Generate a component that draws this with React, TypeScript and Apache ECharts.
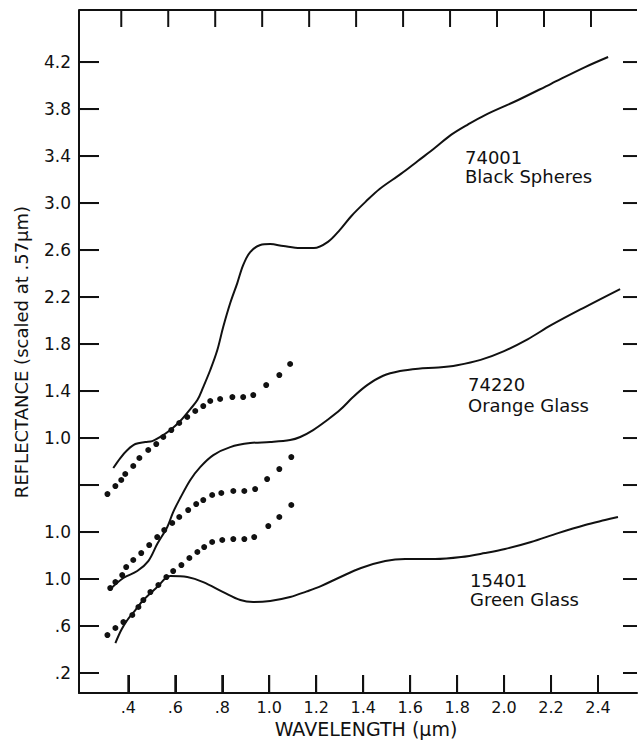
import React, { useEffect, useRef } from "react";
import * as echarts from "echarts";

// Tick values (axis space) and their printed labels
const wavelengthTicks = [0.4, 0.6, 0.8, 1.0, 1.2, 1.4, 1.6, 1.8, 2.0, 2.2, 2.4];
const wavelengthLabels = [".4", ".6", ".8", "1.0", "1.2", "1.4", "1.6", "1.8", "2.0", "2.2", "2.4"];
const topTicks = [0.37, 0.57, 0.77, 0.97, 1.17, 1.37, 1.57, 1.77, 1.97, 2.17, 2.37];
const reflectanceTicks = [0.2, 0.6, 1.0, 1.4, 1.8, 2.2, 2.6, 3.0, 3.4, 3.8, 4.2, 4.6, 5.0, 5.4];
const reflectanceLabels = [".2", ".6", "1.0", "1.0", "", "1.0", "1.4", "1.8", "2.2", "2.6", "3.0", "3.4", "3.8", "4.2"];

// Solid curves: [wavelength µm, plotted reflectance]
const blackSpheresCurve = [
  [0.336, 1.945], [0.366, 2.03], [0.396, 2.098], [0.43, 2.149], [0.472, 2.166], [0.502, 2.174],
  [0.536, 2.209], [0.579, 2.268], [0.621, 2.345], [0.664, 2.447], [0.694, 2.523], [0.719, 2.634],
  [0.749, 2.779], [0.779, 2.949], [0.804, 3.145], [0.834, 3.349], [0.864, 3.519], [0.889, 3.672],
  [0.919, 3.783], [0.962, 3.843], [1.004, 3.851], [1.06, 3.834], [1.132, 3.817], [1.19, 3.817],
  [1.25, 3.87], [1.3, 3.97], [1.35, 4.09], [1.41, 4.21], [1.47, 4.32], [1.562, 4.45],
  [1.634, 4.56], [1.706, 4.67], [1.774, 4.78], [1.847, 4.87], [1.919, 4.949], [2.06, 5.077],
  [2.2, 5.215], [2.345, 5.357], [2.443, 5.443],
];
const orangeGlassCurve = [
  [0.328, 0.923], [0.379, 1.009], [0.438, 1.068], [0.485, 1.153], [0.523, 1.298], [0.566, 1.443],
  [0.591, 1.57], [0.621, 1.689], [0.664, 1.843], [0.706, 1.953], [0.762, 2.055], [0.834, 2.123],
  [0.919, 2.157], [1.004, 2.166], [1.089, 2.183], [1.132, 2.209], [1.187, 2.268], [1.247, 2.353],
  [1.302, 2.44], [1.357, 2.549], [1.417, 2.65], [1.485, 2.73], [1.557, 2.77], [1.634, 2.79],
  [1.72, 2.8], [1.8, 2.82], [1.9, 2.865], [2.0, 2.94], [2.1, 3.04], [2.2, 3.16], [2.345, 3.315],
  [2.494, 3.468],
];
const greenGlassCurve = [
  [0.345, 0.455], [0.37, 0.566], [0.396, 0.651], [0.43, 0.736], [0.464, 0.821], [0.523, 0.932],
  [0.579, 1.026], [0.651, 1.017], [0.719, 0.974], [0.804, 0.889], [0.877, 0.821], [0.932, 0.804],
  [1.004, 0.813], [1.089, 0.847], [1.16, 0.895], [1.22, 0.94], [1.294, 1.009], [1.391, 1.094],
  [1.494, 1.153], [1.579, 1.17], [1.706, 1.17], [1.817, 1.187], [1.919, 1.221], [2.004, 1.255],
  [2.115, 1.315], [2.23, 1.391], [2.345, 1.46], [2.43, 1.502], [2.485, 1.528],
];

// Dotted (point) spectra
const blackSpheresDots = [
  [0.311, 1.723], [0.345, 1.791], [0.37, 1.843], [0.387, 1.894], [0.421, 1.962], [0.447, 2.03],
  [0.485, 2.098], [0.519, 2.149], [0.549, 2.209], [0.583, 2.268], [0.617, 2.328], [0.651, 2.379],
  [0.685, 2.43], [0.719, 2.472], [0.749, 2.515], [0.791, 2.532], [0.843, 2.549], [0.889, 2.549],
  [0.932, 2.566], [0.987, 2.651], [1.043, 2.736], [1.089, 2.83],
];
const orangeGlassDots = [
  [0.323, 0.923], [0.345, 0.974], [0.374, 1.034], [0.391, 1.102], [0.421, 1.162], [0.455, 1.221],
  [0.489, 1.289], [0.523, 1.357], [0.553, 1.417], [0.587, 1.477], [0.617, 1.528], [0.655, 1.587],
  [0.689, 1.638], [0.719, 1.672], [0.757, 1.715], [0.796, 1.732], [0.847, 1.749], [0.894, 1.749],
  [0.94, 1.766], [0.991, 1.851], [1.043, 1.936], [1.094, 2.038],
];
const greenGlassDots = [
  [0.311, 0.523], [0.345, 0.583], [0.379, 0.634], [0.417, 0.694], [0.443, 0.762], [0.464, 0.821],
  [0.494, 0.889], [0.528, 0.949], [0.562, 1.017], [0.591, 1.068], [0.626, 1.119], [0.66, 1.179],
  [0.694, 1.23], [0.723, 1.272], [0.757, 1.315], [0.8, 1.332], [0.847, 1.34], [0.894, 1.34],
  [0.936, 1.357], [0.996, 1.451], [1.043, 1.528], [1.094, 1.63],
];

const FONT = "DejaVu Sans";
const INK = "#111";
const X_MIN = 0.19, X_MAX = 2.566, Y_MIN = 0.03, Y_MAX = 5.843;

function lookup(values: number[], labels: string[], v: number) {
  for (let i = 0; i < values.length; i++) {
    if (Math.abs(values[i] - v) < 1e-6) return labels[i];
  }
  return "";
}

export default function App() {
  const ref = useRef<HTMLDivElement>(null);
  useEffect(() => {
    if (!ref.current) return;
    const chart = echarts.init(ref.current, null, { renderer: "svg" });

    const lineSeries = (name: string, data: number[][]) => ({
      name, type: "line", data, smooth: 0.35, symbol: "none",
      lineStyle: { color: INK, width: 2 }, z: 3,
    });
    const dotSeries = (name: string, data: number[][]) => ({
      name, type: "scatter", data, symbol: "circle", symbolSize: 6,
      itemStyle: { color: INK, opacity: 1 }, z: 4,
    });
    // tick marks as thin rectangular symbols placed by the axes' scales
    const tickSeries = (name: string, data: number[][], size: number[], offset: number[]) => ({
      name, type: "scatter", data, symbol: "rect", symbolSize: size, symbolOffset: offset,
      itemStyle: { color: INK, opacity: 1 }, clip: false, silent: true, z: 6,
    });
    const txt = (text: string, x: number, y: number, size: number, extra: any = {}) => ({
      type: "text", x, y, ...extra,
      style: { text, font: `${size}px "${FONT}"`, fill: INK, align: extra.align || "left", verticalAlign: "middle" },
    });

    chart.setOption({
      animation: false,
      grid: { left: 79, right: 1, top: 10, bottom: 50 },
      xAxis: {
        type: "value", min: X_MIN, max: X_MAX,
        axisLine: { show: true, lineStyle: { color: INK, width: 2 } },
        axisTick: { show: true, inside: true, length: 18, customValues: wavelengthTicks, lineStyle: { color: INK, width: 2 } },
        axisLabel: {
          customValues: wavelengthTicks, margin: 6,
          fontFamily: FONT, fontSize: 16, color: INK,
          formatter: (v: number) => lookup(wavelengthTicks, wavelengthLabels, v),
        },
        splitLine: { show: false },
      },
      yAxis: {
        type: "value", min: Y_MIN, max: Y_MAX,
        axisLine: { show: true, lineStyle: { color: INK, width: 2 } },
        axisTick: { show: true, inside: true, length: 20, customValues: reflectanceTicks, lineStyle: { color: INK, width: 2 } },
        axisLabel: {
          customValues: reflectanceTicks, margin: 8,
          fontFamily: FONT, fontSize: 17, color: INK,
          formatter: (v: number) => lookup(reflectanceTicks, reflectanceLabels, v),
        },
        splitLine: { show: false },
      },
      series: [
        lineSeries("74001 Black Spheres", blackSpheresCurve),
        lineSeries("74220 Orange Glass", orangeGlassCurve),
        lineSeries("15401 Green Glass", greenGlassCurve),
        dotSeries("Black Spheres points", blackSpheresDots),
        dotSeries("Orange Glass points", orangeGlassDots),
        dotSeries("Green Glass points", greenGlassDots),
        {
          name: "top frame", type: "line", data: [[X_MIN, Y_MAX], [X_MAX, Y_MAX]], symbol: "none",
          lineStyle: { color: INK, width: 2 }, clip: false, silent: true, z: 6,
        },
        tickSeries("left ticks", reflectanceTicks.map((v) => [X_MIN, v]), [20, 2], [10, 0]),
        tickSeries("right ticks", reflectanceTicks.map((v) => [X_MAX, v]), [14, 2], [-7, 0]),
        tickSeries("bottom ticks", wavelengthTicks.map((v) => [v, Y_MIN]), [2, 18], [0, -9]),
        tickSeries("top ticks", topTicks.map((v) => [v, Y_MAX]), [2, 17], [0, 8.5]),
      ],
      graphic: [
        txt("WAVELENGTH (\u03bcm)", 366, 729, 19, { align: "center" }),
        txt("REFLECTANCE (scaled at .57\u03bcm)", 21, 352, 18, { align: "center", rotation: Math.PI / 2 }),
        txt("74001", 465, 157, 18),
        txt("Black Spheres", 465, 176, 18),
        txt("74220", 468, 384, 18),
        txt("Orange Glass", 468, 405, 18),
        txt("15401", 470, 580, 18),
        txt("Green Glass", 470, 599, 18),
      ],
    });
    return () => chart.dispose();
  }, []);
  return <div ref={ref} style={{ position: "absolute", left: 0, top: 0, width: 638, height: 743 }} />;
}
